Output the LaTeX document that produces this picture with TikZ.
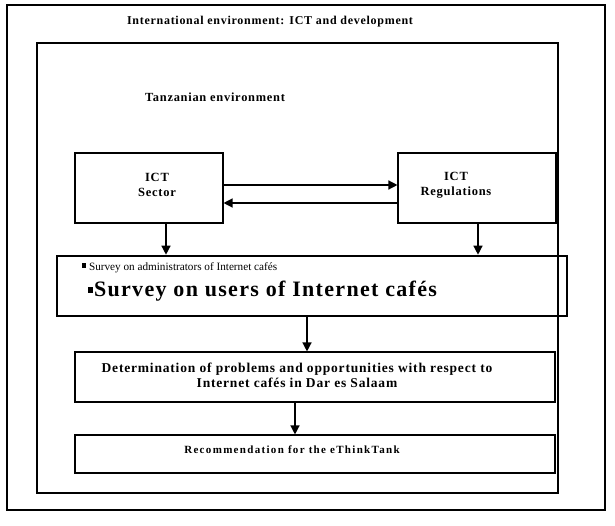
\documentclass[tikz,border=0pt]{standalone}
\usepackage{fontspec}
\setmainfont{Liberation Serif}
\newfontfamily\spacedfont[LetterSpace=6]{Liberation Serif}
\newfontfamily\widefont[LetterSpace=12]{Liberation Serif}
\usetikzlibrary{arrows.meta}
\begin{document}
\begin{tikzpicture}[x=1pt,y=-1pt,
  frame/.style={draw,line width=1.3pt},
  box/.style={draw,line width=1.1pt,inner sep=0pt},
  label/.style={align=center,inner sep=0pt,font=\spacedfont\bfseries\fontsize{12.5}{15}\selectfont},
  thickbox/.style={draw,line width=2.6pt,inner sep=0pt},
  flow/.style={line width=1.3pt,-{Triangle[width=9pt,length=9pt]}}]
\useasboundingbox (0,0) rectangle (615,526);
% outer and inner environments
\draw[frame] (7,5) rectangle (605,510);
\node[font=\spacedfont\bfseries\fontsize{12}{14}\selectfont] (intl) at (270,22) {International environment: ICT and development};
\draw[frame] (37,43) rectangle (558,493);
\node[font=\spacedfont\bfseries\fontsize{12.4}{14}\selectfont] (tz) at (215,97) {Tanzanian environment};
% actors
\node[box,minimum width=148pt,minimum height=70pt] (sector) at (149,188) {};
\node[label] (sectorlbl) at (157,185) {ICT\\Sector};
\node[box,minimum width=158pt,minimum height=70pt] (reg) at (477,188) {};
\node[label] (reglbl) at (456,185) {ICT\\Regulations};
% surveys
\node[thickbox,minimum width=510pt,minimum height=60pt] (survey) at (312,286) {};
\node[anchor=west,font=\fontsize{11.2}{13}\selectfont] (s1) at (78,268) {\rule[0.6ex]{4.5pt}{4.5pt}\hspace{3pt}Survey on administrators of Internet cafés};
\node[anchor=west,font=\spacedfont\bfseries\fontsize{22}{24}\selectfont] (s2) at (84,291) {\rule[0.35ex]{5.5pt}{5.5pt}\hspace{1pt}Survey on users of Internet cafés};
% results
\node[box,minimum width=480pt,minimum height=50pt] (det) at (315,377) {};
\node[label,font=\spacedfont\bfseries\fontsize{13.5}{15}\selectfont] (detlbl) at (297,375) {Determination of problems and opportunities with respect to\\Internet cafés in Dar es Salaam};
\node[box,minimum width=480pt,minimum height=38pt] (rec) at (315,454) {};
\node[label,font=\widefont\bfseries\fontsize{11}{13}\selectfont] (reclbl) at (292,450) {Recommendation for the eThinkTank};
% connectors
\draw[flow] ([yshift=3pt]sector.east) -- ([yshift=3pt]reg.west);
\draw[flow] ([yshift=-15pt]reg.west) -- ([yshift=-15pt]sector.east);
\draw[flow] (sector.south -| 166,0) -- (survey.north -| 166,0);
\draw[flow] (reg.south -| 478,0) -- (survey.north -| 478,0);
\draw[flow] (survey.south -| 307,0) -- (det.north -| 307,0);
\draw[flow] (det.south -| 295,0) -- (rec.north -| 295,0);
\end{tikzpicture}
\end{document}
